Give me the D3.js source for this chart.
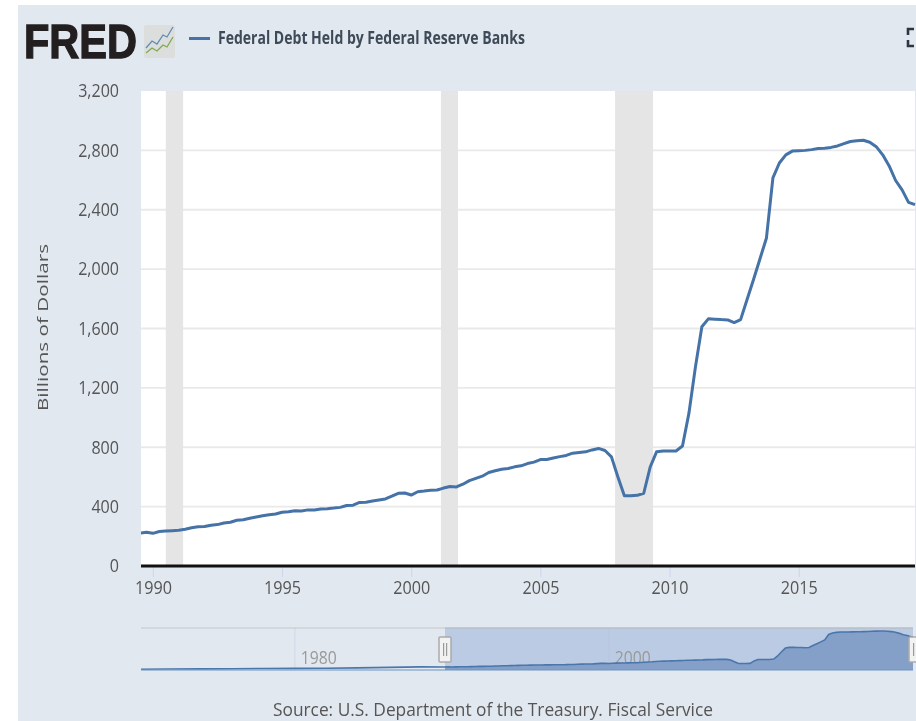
<!DOCTYPE html>
<html>
<head>
<meta charset="utf-8">
<script src="https://cdn.jsdelivr.net/npm/d3@7"></script>
<style>
html,body{margin:0;padding:0;background:#fff;overflow:hidden}
svg{display:block;filter:blur(0.55px)}
text{font-family:"Open Sans",sans-serif}
</style>
</head>
<body>
<svg id="chart" width="916" height="721"></svg>
<script>
const seriesName = "Federal Debt Held by Federal Reserve Banks";
const yAxisTitle = "Billions of Dollars";
const sourceText = "Source: U.S. Department of the Treasury. Fiscal Service";
const yTicks = [0,400,800,1200,1600,2000,2400,2800,3200];
const xTicks = [1990,1995,2000,2005,2010,2015];
const navTicks = [1980,2000];
const recessions = [[1990.5,1991.17],[2001.15,2001.81],[2007.89,2009.36]];
const quarters = d3.range(0,121).map(i => 1989.5 + i*0.25);
const debtValues = [
 222,228,220,232,235,238,241,248,258,265,266,275,279,290,295,308,312,322,330,338,345,350,
 362,365,372,370,378,378,384,386,390,395,408,410,428,430,438,445,452,470,490,492,478,500,
 505,511,512,525,535,533,551,575,590,605,630,642,652,657,668,675,690,700,717,718,727,737,
 745,760,765,769,782,792,778,735,600,474,474,476,490,667,770,775,775,775,808,1030,1340,
 1612,1665,1663,1660,1658,1640,1660,1795,1930,2070,2210,2615,2715,2770,2795,2798,2800,2805,
 2812,2815,2820,2830,2845,2860,2865,2868,2855,2825,2770,2695,2597,2534,2450,2435];
const earlyYears = [1970,1972,1974,1976,1978,1980,1982,1984,1986,1988];
const earlyValues = [58,71,81,97,110,121,132,155,190,229];

const svg = d3.select("#chart");
const W=916,H=721;
const plot={l:141,r:915,t:91,b:566};
const nav={l:141,r:915,t:628,b:670};

svg.append("rect").attr("x",18).attr("y",5).attr("width",W-18).attr("height",H-5).attr("fill","#e1e8f0");
svg.append("rect").attr("x",plot.l).attr("y",plot.t).attr("width",plot.r-plot.l).attr("height",plot.b-plot.t).attr("fill","#fff");

const x=d3.scaleLinear().domain([1989.54,2019.5]).range([plot.l,plot.r]);
const y=d3.scaleLinear().domain([0,3200]).range([plot.b,plot.t]);

const grid=svg.append("g");
grid.selectAll("line").data(yTicks.filter(t=>t>0&&t<3200)).join("line")
  .attr("x1",plot.l).attr("x2",plot.r).attr("y1",d=>y(d)).attr("y2",d=>y(d)).attr("stroke","#e6e6e6").attr("stroke-width",1.8).attr("opacity",0.85);
svg.append("g").selectAll("rect").data(recessions).join("rect")
  .attr("x",d=>x(d[0])).attr("y",plot.t).attr("width",d=>x(d[1])-x(d[0])).attr("height",plot.b-plot.t).attr("fill","#e5e5e5");

const labelWidth=s=>String(s).replace(/,/g,"").length*9.2+(String(s).includes(",")?4:0);
const fmt=d3.format(",");
const yAxis=d3.axisLeft(y).tickValues(yTicks).tickFormat(fmt).tickSize(0).tickPadding(0);
const gy=svg.append("g").attr("transform","translate(119,0)").call(yAxis);
gy.select(".domain").remove();
gy.selectAll("text").attr("fill","#555").style("font-size","18px").attr("dy","0.32em")
  .attr("textLength",d=>labelWidth(fmt(d))).attr("lengthAdjust","spacingAndGlyphs");

const xAxis=d3.axisBottom(x).tickValues(xTicks).tickFormat(d3.format("d")).tickSize(11).tickPadding(4);
const gx=svg.append("g").attr("transform",`translate(0,${plot.b})`).call(xAxis);
gx.select(".domain").remove();
gx.selectAll("line").attr("stroke","#ccd6eb");
gx.selectAll("text").attr("fill","#555").style("font-size","18px")
  .attr("textLength",37).attr("lengthAdjust","spacingAndGlyphs");

svg.append("line").attr("x1",plot.l).attr("x2",plot.r).attr("y1",plot.b).attr("y2",plot.b).attr("stroke","#111").attr("stroke-width",3);

const pts=quarters.map((q,i)=>[q,debtValues[i]]);
const line=d3.line().x(d=>x(d[0])).y(d=>y(d[1]));
svg.append("clipPath").attr("id","plotClip").append("rect").attr("x",plot.l).attr("y",plot.t).attr("width",plot.r-plot.l+1).attr("height",plot.b-plot.t);
svg.append("path").datum(pts).attr("d",line).attr("fill","none").attr("stroke","#4572a7").attr("stroke-width",3).attr("stroke-linejoin","round").attr("clip-path","url(#plotClip)");

svg.append("text").attr("transform",`translate(48,${(244+411)/2}) rotate(-90)`).attr("text-anchor","middle")
  .attr("fill","#555").style("font-size","15px").attr("textLength",167).attr("lengthAdjust","spacingAndGlyphs").text(yAxisTitle);

// header
svg.append("text").attr("x",24).attr("y",57.5).attr("fill","#231f20").style("font-family","'Liberation Sans',sans-serif").style("font-weight","700")
  .style("font-size","49px").attr("textLength",113).attr("lengthAdjust","spacingAndGlyphs").attr("stroke","#231f20").attr("stroke-width",1.4).text("FRED");
const icon=svg.append("g").attr("transform","translate(144,25)");
icon.append("rect").attr("width",31).attr("height",33).attr("rx",2).attr("fill","#dcdedd");
const iconBlue=[[2,23],[8,16],[13,19],[19,10],[23,12],[29,2]];
const iconGreen=[[2,28],[8,23],[13,26],[19,20],[23,22],[29,12]];
icon.append("path").attr("d",d3.line()(iconBlue)).attr("fill","none").attr("stroke","#5f8db5").attr("stroke-width",1.3);
icon.append("path").attr("d",d3.line()(iconGreen)).attr("fill","none").attr("stroke","#7fa84f").attr("stroke-width",1.3);

svg.append("line").attr("x1",189).attr("x2",210).attr("y1",38.5).attr("y2",38.5).attr("stroke","#4572a7").attr("stroke-width",3);
svg.append("text").attr("x",218).attr("y",44).attr("fill","#3f4a58").style("font-size","17px").style("font-weight","700")
  .attr("textLength",307).attr("lengthAdjust","spacingAndGlyphs").text(seriesName);

// fullscreen icon
const fs=svg.append("g").attr("fill","none").attr("stroke","#2f3540").attr("stroke-width",2.6);
fs.append("path").attr("d","M908 35V29H914");
fs.append("path").attr("d","M908 40V46H914");

// navigator
const navX=d3.scaleLinear().domain([1970.2,2019.5]).range([nav.l,nav.r]);
const navY=d3.scaleLinear().domain([0,2868]).range([nav.b,631]);
const navPts=earlyYears.map((t,i)=>[t,earlyValues[i]]).concat(pts);
const selL=445, selR=913;
svg.append("rect").attr("x",selL).attr("y",nav.t).attr("width",selR-selL).attr("height",nav.b-nav.t).attr("fill","#bbcbe3");
svg.append("line").attr("x1",nav.l).attr("x2",selL).attr("y1",nav.t).attr("y2",nav.t).attr("stroke","#cfd3d7").attr("stroke-width",1.5);
svg.append("line").attr("x1",selL).attr("x2",selR).attr("y1",nav.t).attr("y2",nav.t).attr("stroke","#b7bfca").attr("stroke-width",1.5);
svg.append("g").selectAll("line").data(navTicks).join("line")
  .attr("x1",d=>navX(d)).attr("x2",d=>navX(d)).attr("y1",nav.t).attr("y2",nav.b).attr("stroke","#b0bdd2").attr("stroke-width",1).attr("opacity",0.35);
svg.append("clipPath").attr("id","selClip").append("rect").attr("x",selL).attr("y",nav.t).attr("width",selR-selL).attr("height",nav.b-nav.t+2);
const navArea=d3.area().x(d=>navX(d[0])).y0(nav.b).y1(d=>navY(d[1]));
svg.append("path").datum(navPts).attr("d",navArea).attr("fill","#84a0c8").attr("clip-path","url(#selClip)");
svg.append("g").selectAll("text").data(navTicks).join("text")
  .attr("x",d=>navX(d)+24).attr("y",664).attr("text-anchor","middle").attr("fill","#999").style("font-size","18px")
  .attr("textLength",36).attr("lengthAdjust","spacingAndGlyphs").text(d=>d);
svg.append("clipPath").attr("id","navAll").append("rect").attr("x",nav.l).attr("y",nav.t).attr("width",selR-nav.l).attr("height",nav.b-nav.t+2);
svg.append("path").datum(navPts).attr("d",d3.line().x(d=>navX(d[0])).y(d=>navY(d[1]))).attr("fill","none").attr("stroke","#4a76ab").attr("stroke-width",1.6).attr("clip-path","url(#navAll)");
svg.append("line").attr("x1",nav.l).attr("x2",selR).attr("y1",nav.b).attr("y2",nav.b).attr("stroke","#6f93bf").attr("stroke-width",1.2);

const handles=[selL,selR+2];
const hg=svg.append("g").selectAll("g").data(handles).join("g").attr("transform",d=>`translate(${d},0)`);
hg.append("rect").attr("x",-6).attr("y",637).attr("width",12).attr("height",25).attr("fill","#f2f2f2").attr("stroke","#aaa").attr("stroke-width",1.5).attr("rx",1);
hg.append("rect").attr("x",-2).attr("y",643).attr("width",1.2).attr("height",13).attr("fill","#999");
hg.append("rect").attr("x",1).attr("y",643).attr("width",1.2).attr("height",13).attr("fill","#999");

svg.append("text").attr("x",493).attr("y",716).attr("text-anchor","middle").attr("fill","#555").style("font-size","18px")
  .attr("textLength",440).attr("lengthAdjust","spacingAndGlyphs").text(sourceText);
</script>
</body>
</html>
